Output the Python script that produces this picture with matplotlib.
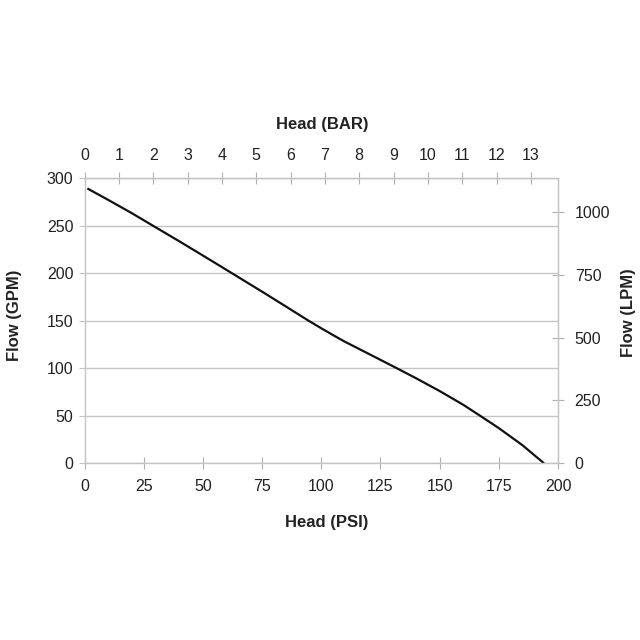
import matplotlib
matplotlib.use("Agg")
import matplotlib.pyplot as plt
import numpy as np

plt.rcParams['font.family'] = ['Liberation Sans', 'DejaVu Sans']

head_psi = [1.2, 10, 20, 28.8, 40, 50, 62.2, 75, 85, 90, 94.6, 100, 105, 110, 115,
            125, 131.9, 140, 150, 160, 167.1, 175, 185, 194.1]
flow_gpm = [289, 277, 263, 250, 233.5, 218.5, 200, 180.5, 165, 157.2, 150, 142,
            134.8, 127.8, 121.5, 108.8, 100, 89.5, 76, 61.5, 50, 37, 19, 0]

psi_ticks = [0, 25, 50, 75, 100, 125, 150, 175, 200]
gpm_ticks = [0, 50, 100, 150, 200, 250, 300]
bar_ticks = list(range(0, 14))
lpm_ticks = [0, 250, 500, 750, 1000]

PSI_PER_BAR = 14.5038
LPM_PER_GPM = 3.78541

grid_c = '#c4c4c4'
spine_c = '#c4c4c4'
tick_c = '#b0b0b0'
text_c = '#222222'
FS = 11.5
LFS = 12

fig = plt.figure(figsize=(6.4, 6.4), dpi=100)
ax = fig.add_axes([84.5/640, 1-463.3/640, (558-84.5)/640, (463.3-178)/640])

ax.plot(head_psi, flow_gpm, color='#111111', lw=1.6, solid_capstyle='butt',
        solid_joinstyle='round')
ax.set_xlim(0, 200)
ax.set_ylim(0, 300)
ax.set_xticks(psi_ticks)
ax.set_yticks(gpm_ticks)
ax.grid(axis='y', color=grid_c, lw=1)
ax.set_axisbelow(True)
for s in ax.spines.values():
    s.set_color(spine_c)
    s.set_linewidth(1)
ax.tick_params(axis='x', direction='inout', length=8, color=tick_c, labelsize=FS,
               labelcolor=text_c, pad=7)
ax.tick_params(axis='y', direction='out', length=4, color=grid_c, labelsize=FS,
               labelcolor=text_c, pad=4)

top = ax.secondary_xaxis('top', functions=(lambda p: p / PSI_PER_BAR, lambda b: b * PSI_PER_BAR))
top.set_xticks(bar_ticks)
top.tick_params(direction='inout', length=8, color=tick_c, labelsize=FS,
                labelcolor=text_c, pad=7)
top.spines['top'].set_color(spine_c)

right = ax.secondary_yaxis('right', functions=(lambda g: g * LPM_PER_GPM, lambda l: l / LPM_PER_GPM))
right.set_yticks(lpm_ticks)
right.tick_params(direction='inout', length=8, color=tick_c, labelsize=FS,
                  labelcolor=text_c, pad=8)
right.spines['right'].set_color(spine_c)

fig.text(322/640, 1-124/640, 'Head (BAR)', ha='center', va='center',
         fontsize=LFS, fontweight='bold', color=text_c)
fig.text(327/640, 1-523/640, 'Head (PSI)', ha='center', va='center',
         fontsize=LFS, fontweight='bold', color=text_c)
fig.text(15/640, 1-315/640, 'Flow (GPM)', ha='center', va='center', rotation=90,
         fontsize=LFS, fontweight='bold', color=text_c)
fig.text(629/640, 1-313/640, 'Flow (LPM)', ha='center', va='center', rotation=90,
         fontsize=LFS, fontweight='bold', color=text_c)

fig.savefig('out.png', dpi=100, facecolor='white')
